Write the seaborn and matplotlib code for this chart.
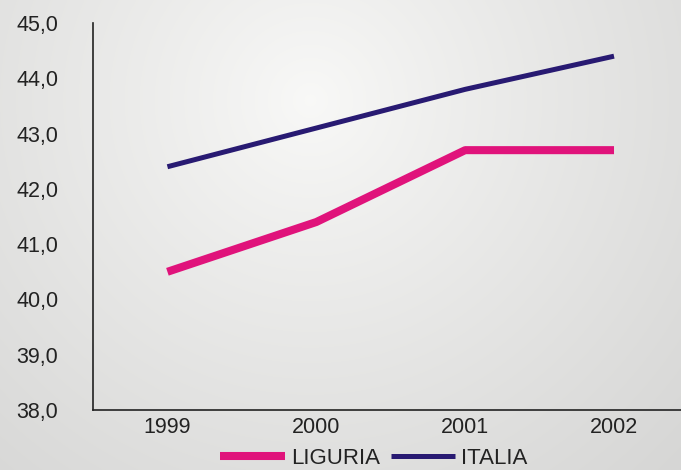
import numpy as np
import pandas as pd
import matplotlib
matplotlib.use("Agg")
import matplotlib.pyplot as plt
import seaborn as sns

# --- DATA ---
years = [1999, 2000, 2001, 2002]
liguria = [40.5, 41.4, 42.7, 42.7]
italia = [42.4, 43.1, 43.8, 44.4]
y_ticks = [38, 39, 40, 41, 42, 43, 44, 45]

sns.set_theme(style="white")
plt.rcParams['font.family'] = ['Liberation Sans', 'DejaVu Sans']

df = pd.DataFrame({
    'anno': years * 2,
    'valore': liguria + italia,
    'serie': ['LIGURIA'] * len(years) + ['ITALIA'] * len(years),
})

fig = plt.figure(figsize=(6.81, 4.70), dpi=100)

# radial background
bg = fig.add_axes([0, 0, 1, 1], zorder=-10)
W, H = 681, 470
xx, yy = np.meshgrid(np.arange(W), np.arange(H))
r = np.sqrt((xx - 310) ** 2 + (yy - 100) ** 2)
v = 0.975 - 0.135 * np.clip(r / 520, 0, 1.2) ** 0.9
v = np.clip(v, 0, 1)
img = np.dstack([v, v, v * 0.995])
bg.imshow(img, aspect='auto', extent=[0, 1, 0, 1])
bg.axis('off')

ax = fig.add_axes([93 / W, 60 / H, 1 - 93 / W, (410 - 23) / H])
ax.set_facecolor('none')

sns.lineplot(data=df[df['serie'] == 'LIGURIA'], x='anno', y='valore',
             color='#e0137b', linewidth=5.8, solid_capstyle='butt',
             label='LIGURIA', ax=ax)
sns.lineplot(data=df[df['serie'] == 'ITALIA'], x='anno', y='valore',
             color='#281a72', linewidth=3.6, solid_capstyle='butt',
             label='ITALIA', ax=ax)

ax.set_xlim(1998.5, 2002.45)
ax.set_ylim(38, 45)
ax.set_xticks(years)
ax.set_xticklabels([str(y) for y in years])
ax.set_yticks(y_ticks)
ax.set_yticklabels([f"{t:.1f}".replace('.', ',') for t in y_ticks])
ax.set_xlabel('')
ax.set_ylabel('')
ax.tick_params(axis='y', length=0, pad=25, labelsize=15.5, labelcolor='#222222')
ax.tick_params(axis='x', length=0, pad=5, labelsize=15.5, labelcolor='#222222')
for s in ['top', 'right']:
    ax.spines[s].set_visible(False)
for s in ['left', 'bottom']:
    ax.spines[s].set_color('#222222')
    ax.spines[s].set_linewidth(1.2)

ax.get_legend().remove()
h, l = ax.get_legend_handles_labels()
fig.legend(h, l, loc='center', bbox_to_anchor=(374 / W, 12 / H), ncol=2,
           frameon=False, fontsize=16, handlelength=2.9, handletextpad=0.27,
           columnspacing=0.5, labelcolor='#222222')

fig.savefig('out.png', dpi=100)
